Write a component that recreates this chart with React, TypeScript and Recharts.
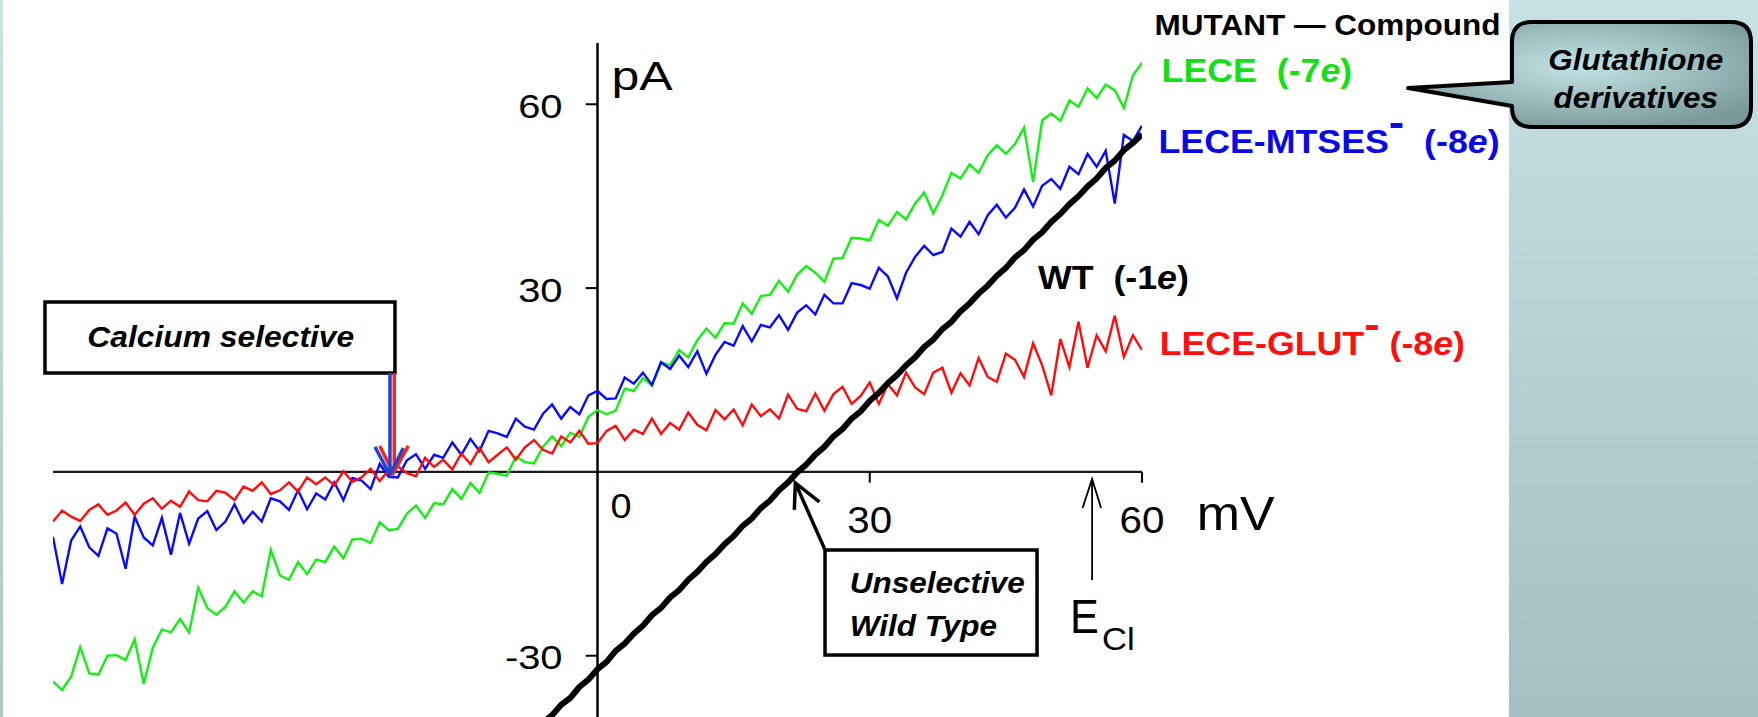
import React from 'react';
import { ComposedChart, Line, XAxis, YAxis, ReferenceLine, ReferenceDot } from 'recharts';

// Membrane potential grid (mV)
const MV = [
  -60, -59, -58, -57, -56, -55, -54, -53, -52, -51,
  -50, -49, -48, -47, -46, -45, -44, -43, -42, -41,
  -40, -39, -38, -37, -36, -35, -34, -33, -32, -31,
  -30, -29, -28, -27, -26, -25, -24, -23, -22, -21,
  -20, -19, -18, -17, -16, -15, -14, -13, -12, -11,
  -10, -9, -8, -7, -6, -5, -4, -3, -2, -1,
  0, 1, 2, 3, 4, 5, 6, 7, 8, 9,
  10, 11, 12, 13, 14, 15, 16, 17, 18, 19,
  20, 21, 22, 23, 24, 25, 26, 27, 28, 29,
  30, 31, 32, 33, 34, 35, 36, 37, 38, 39,
  40, 41, 42, 43, 44, 45, 46, 47, 48, 49,
  50, 51, 52, 53, 54, 55, 56, 57, 58, 59, 60,
];

// LECE (-7e), green, pA
const LECE = [
  -34.2, -35.6, -33.4, -28.6, -32.9, -33.1, -30.0, -29.9, -30.7, -27.3,
  -34.6, -28.7, -25.7, -26.2, -24.0, -26.2, -18.9, -22.2, -23.3, -22.0,
  -19.5, -21.3, -19.5, -20.3, -12.7, -16.9, -17.6, -14.7, -16.7, -14.3,
  -14.7, -12.2, -14.1, -11.0, -10.9, -11.6, -8.2, -9.5, -9.3, -6.8,
  -5.5, -7.5, -5.1, -5.3, -2.8, -4.4, -1.8, -3.4, -0.1, -0.3,
  -0.6, 2.5, 1.6, 1.4, 4.1, 5.8, 4.2, 6.4, 5.7, 9.0,
  10.1, 9.4, 10.0, 13.6, 13.2, 15.3, 14.1, 17.9, 17.4, 19.9,
  18.7, 21.5, 23.4, 21.9, 24.3, 24.2, 27.5, 25.8, 28.7, 28.9,
  31.2, 29.4, 32.2, 33.6, 32.5, 31.0, 34.8, 34.9, 38.2, 38.1,
  37.8, 41.1, 40.2, 42.4, 41.2, 43.8, 45.6, 42.2, 45.1, 48.8,
  47.9, 50.2, 48.8, 51.7, 53.3, 51.9, 53.5, 56.2, 47.3, 57.4,
  58.5, 57.3, 60.6, 59.6, 62.6, 61.0, 63.2, 62.3, 59.4, 64.7, 66.8,
];

// LECE-MTSES- (-8e), blue, pA
const LECE_MTSES = [
  -10.6, -18.3, -11.2, -8.9, -12.3, -13.7, -9.2, -10.1, -15.8, -7.3,
  -10.7, -12.0, -7.5, -13.5, -6.7, -11.7, -7.6, -6.4, -9.5, -8.1,
  -5.3, -8.3, -6.5, -8.1, -4.3, -4.8, -6.2, -3.0, -6.1, -3.5,
  -4.5, -1.7, -4.6, -1.0, -1.4, -2.8, 1.3, -0.8, -0.9, 1.9,
  2.9, 0.5, 2.8, 2.3, 4.8, 2.8, 5.4, 3.4, 6.7, 6.3,
  5.7, 8.7, 7.4, 6.9, 9.5, 11.0, 8.7, 10.6, 9.4, 12.5,
  13.2, 11.9, 12.0, 15.4, 14.4, 16.2, 14.2, 17.9, 16.8, 19.0,
  17.1, 19.7, 16.0, 19.1, 21.2, 20.6, 23.8, 21.3, 24.0, 23.6,
  25.6, 23.2, 26.0, 27.2, 25.7, 28.9, 27.5, 27.5, 30.8, 30.5,
  29.9, 33.3, 31.9, 28.3, 32.5, 35.1, 36.9, 35.4, 35.9, 39.7,
  38.4, 40.8, 38.8, 41.9, 43.6, 41.5, 43.1, 46.1, 43.3, 46.7,
  47.8, 46.2, 49.8, 48.6, 51.9, 49.8, 52.4, 43.8, 55.0, 54.0, 56.5,
];

// LECE-GLUT- (-8e), red, pA
const LECE_GLUT = [
  -8.1, -6.3, -7.3, -8.0, -6.2, -5.3, -7.0, -6.3, -5.0, -7.0,
  -5.2, -4.3, -6.0, -4.7, -5.7, -3.2, -4.6, -4.8, -3.1, -3.4,
  -4.6, -2.4, -3.1, -1.7, -3.6, -3.0, -1.7, -3.2, -0.9, -2.0,
  -0.9, -2.2, 0.1, -1.6, -0.9, 0.5, -1.5, 0.3, 0.9, -0.2,
  -0.7, 2.3, 0.8, 2.0, 0.4, 3.0, 1.3, 3.9, 1.6, 2.8,
  4.0, 2.0, 4.0, 5.2, 3.6, 3.0, 5.8, 4.8, 6.7, 4.6,
  4.7, 6.7, 7.5, 5.2, 6.9, 6.2, 8.7, 6.2, 8.0, 6.9,
  9.7, 7.7, 6.8, 10.1, 8.6, 10.2, 7.6, 11.0, 9.1, 10.2,
  8.7, 12.6, 10.3, 9.9, 12.8, 10.0, 12.7, 13.9, 11.1, 12.4,
  14.6, 11.1, 14.3, 12.5, 16.2, 13.8, 12.7, 16.2, 17.0, 12.9,
  16.1, 14.1, 18.6, 15.5, 14.7, 19.3, 18.3, 15.5, 21.0, 17.4,
  12.5, 21.7, 17.1, 24.5, 17.0, 22.3, 19.7, 25.5, 18.8, 22.3, 19.9,
];

// WT (-1e), black, pA — recorded from -8 mV upward
const WT_START_MV = -8;
const WT = [
  -43.9, -42.6, -40.9, -39.7, -38.0, -36.9, -35.1, -33.9,
  -32.2, -31.0, -29.2, -28.0, -26.4, -25.1, -23.4, -22.2, -20.5, -19.3,
  -17.6, -16.3, -14.7, -13.4, -11.8, -10.5, -8.8, -7.6, -5.9, -4.7,
  -3.0, -1.7, -0.1, 1.2, 2.8, 4.1, 5.8, 7.0, 8.7, 9.9,
  11.6, 12.9, 14.5, 15.8, 17.4, 18.7, 20.4, 21.6, 23.3, 24.5,
  26.2, 27.5, 29.1, 30.4, 32.0, 33.3, 35.0, 36.2, 37.9, 39.1,
  40.8, 42.1, 43.7, 45.0, 46.6, 47.9, 49.6, 50.8, 52.5, 53.7, 55.1,
];

const Y_TICKS = [60, 30, -30];
const X_TICKS = [30, 60];
const E_CL = 54.5;     // chloride equilibrium potential (mV)
const CA_REV = -23;    // reversal of calcium-selective mutants (mV)
const WT_REV = 21.8;   // reversal of wild type (mV)

const WT_INDEX0 = MV.indexOf(WT_START_MV);
const rows = MV.map((mv, i) => ({
  mv,
  lece: LECE[i],
  mtses: LECE_MTSES[i],
  glut: LECE_GLUT[i],
  wt: i >= WT_INDEX0 ? WT[i - WT_INDEX0] : null,
}));

const FONT = '"Liberation Sans", Arial, Helvetica, sans-serif';

function Txt(props: any) {
  const { x, y, size, sx = 1, anchor = 'start', bold = false, italic = false, fill = '#000', children } = props;
  return (
    <text
      transform={`translate(${x},${y}) scale(${sx},1)`}
      fontSize={size}
      textAnchor={anchor}
      fontWeight={bold ? 'bold' : 'normal'}
      fontStyle={italic ? 'italic' : 'normal'}
      fill={fill}
      fontFamily={FONT}
      xmlSpace="preserve"
      style={{ whiteSpace: 'pre' }}
    >
      {children}
    </text>
  );
}

const at = (key: string, x: number, y: number, draw: (cx: number, cy: number) => React.ReactNode) => (
  <ReferenceDot
    key={key}
    x={x}
    y={y}
    r={0}
    ifOverflow="visible"
    fill="none"
    stroke="none"
    shape={(p: any) => <g>{draw(p.cx, p.cy)}</g>}
  />
);

export default function App() {
  return (
    <div style={{ position: 'absolute', left: 0, top: 0, width: 1758, height: 717, overflow: 'hidden', background: '#fff' }}>
      <div style={{ position: 'absolute', left: 0, top: 0, width: 3, height: 717, background: 'linear-gradient(#c8e2e6,#aec6c9)' }} />
      <div style={{ position: 'absolute', left: 1509, top: 0, width: 249, height: 717, background: 'linear-gradient(#c7e1e5,#a6bec1)' }} />
      <div style={{ position: 'absolute', left: 0, top: 0 }}>
        <ComposedChart width={1758} height={717} data={rows} margin={{ top: 43, right: 616, bottom: 0, left: 53 }}>
          <XAxis dataKey="mv" type="number" domain={[-60, 60]} hide allowDataOverflow />
          <YAxis type="number" domain={[-40, 70]} hide allowDataOverflow />

          <ReferenceLine y={0} stroke="#1a1a1a" strokeWidth={2.2} />
          <ReferenceLine x={0} stroke="#000" strokeWidth={2.5} />
          {Y_TICKS.map((t) => (
            <ReferenceLine key={'yt' + t} segment={[{ x: -1.3, y: t }, { x: 0, y: t }]} stroke="#000" strokeWidth={2} />
          ))}
          {X_TICKS.map((t) => (
            <ReferenceLine key={'xt' + t} segment={[{ x: t, y: 0 }, { x: t, y: -1.75 }]} stroke="#000" strokeWidth={2} />
          ))}

          <Line type="linear" dataKey="lece" stroke="#14f014" strokeWidth={2.4} dot={false} isAnimationActive={false} />
          <Line type="linear" dataKey="mtses" stroke="#0a0aff" strokeWidth={2.4} dot={false} isAnimationActive={false} />
          <Line type="linear" dataKey="glut" stroke="#ff0c0c" strokeWidth={2.4} dot={false} isAnimationActive={false} />
          <Line type="linear" dataKey="wt" stroke="#000" strokeWidth={6} dot={false} isAnimationActive={false} connectNulls={false} />

          {Y_TICKS.map((t) =>
            at('yl' + t, 0, t, (cx, cy) => (
              <Txt x={cx - 35} y={cy + 13.5} size={33.5} sx={1.19} anchor="end">{String(t)}</Txt>
            ))
          )}
          {X_TICKS.map((t) =>
            at('xl' + t, t, 0, (cx, cy) => (
              <Txt x={cx} y={cy + 61.5} size={37} sx={1.09} anchor="middle">{String(t)}</Txt>
            ))
          )}
          {at('zero', 0, 0, (cx, cy) => (
            <Txt x={cx + 13} y={cy + 46.5} size={35} sx={1.08}>0</Txt>
          ))}
          {at('pA', 0, 70, (cx, cy) => (
            <Txt x={cx + 14} y={cy + 47} size={40} sx={1.25}>pA</Txt>
          ))}
          {at('mV', 60, 0, (cx, cy) => (
            <Txt x={cx + 54.7} y={cy + 58} size={49} sx={1.06}>mV</Txt>
          ))}

          {at('ecl', E_CL, 0, (cx, cy) => (
            <g>
              <line x1={cx} y1={cy + 108} x2={cx} y2={cy + 7} stroke="#000" strokeWidth={1.8} />
              <polyline points={`${cx - 9.5},${cy + 36} ${cx},${cy + 7} ${cx + 9},${cy + 36}`} fill="none" stroke="#000" strokeWidth={1.8} />
              <Txt x={cx - 22} y={cy + 161} size={49} sx={0.88}>E</Txt>
              <Txt x={cx + 10} y={cy + 178} size={32} sx={1.08}>Cl</Txt>
            </g>
          ))}

          {at('ca', CA_REV, 0, (cx, cy) => (
            <g>
              <rect x={cx - 343.8} y={cy - 169.9} width={350} height={71} fill="#fff" stroke="#000" strokeWidth={3.5} />
              <Txt x={cx - 168} y={cy - 125.2} size={30} sx={1.06} anchor="middle" bold italic>Calcium selective</Txt>
              <line x1={cx + 5.5} y1={cy - 99} x2={cx + 5.5} y2={cy - 1} stroke="#ff2020" strokeWidth={3.5} />
              <polyline points={`${cx - 9},${cy - 26} ${cx + 4.5},${cy + 1} ${cx + 19.5},${cy - 26}`} fill="none" stroke="#ff2020" strokeWidth={3.5} />
              <line x1={cx + 1.2} y1={cy - 99} x2={cx + 1.2} y2={cy - 1} stroke="#2244cc" strokeWidth={3.5} />
              <polyline points={`${cx - 13.8},${cy - 25} ${cx + 1.2},${cy + 3} ${cx + 14.5},${cy - 24}`} fill="none" stroke="#2244cc" strokeWidth={3.5} />
            </g>
          ))}

          {at('wtrev', WT_REV, 0, (cx, cy) => (
            <g>
              <line x1={cx + 29.7} y1={cy + 78} x2={cx} y2={cy + 11} stroke="#000" strokeWidth={3.5} />
              <polyline points={`${cx - 1},${cy + 38} ${cx},${cy + 11} ${cx + 24},${cy + 30}`} fill="none" stroke="#000" strokeWidth={3.5} />
              <rect x={cx + 29.7} y={cy + 78.1} width={212} height={105} fill="#fff" stroke="#000" strokeWidth={3.5} />
              <Txt x={cx + 54.5} y={cy + 121.4} size={30} sx={1.05} bold italic>Unselective</Txt>
              <Txt x={cx + 54.5} y={cy + 164} size={30} sx={1.05} bold italic>Wild Type</Txt>
            </g>
          ))}

          {at('labels', 60, 70, (cx, cy) => (
            <g>
              <Txt x={cx + 12.6} y={cy - 8} size={30.3} sx={1.04} bold>MUTANT — Compound</Txt>
              <Txt x={cx + 19.6} y={cy + 39} size={32.5} sx={1.1} bold fill="#14e014">
                {'LECE  (-7'}<tspan fontStyle="italic">e</tspan>)
              </Txt>
              <Txt x={cx + 16.5} y={cy + 110} size={32.5} sx={1.1} bold fill="#0a0ae6">
                LECE-MTSES<tspan fontSize={42} dy={-16}>-</tspan><tspan dy={16}>{'  (-8'}</tspan><tspan fontStyle="italic">e</tspan>)
              </Txt>
              <Txt x={cx - 104} y={cy + 246} size={32.5} sx={1.1} bold>
                {'WT  (-1'}<tspan fontStyle="italic">e</tspan>)
              </Txt>
              <Txt x={cx + 17.7} y={cy + 312} size={32.5} sx={1.1} bold fill="#ff1010">
                LECE-GLUT<tspan fontSize={42} dy={-16}>-</tspan><tspan dy={16}>{' (-8'}</tspan><tspan fontStyle="italic">e</tspan>)
              </Txt>
            </g>
          ))}

          {at('callout', 60, 70, (cx, cy) => {
            const L = cx + 370, R = cx + 609, T = cy - 21, B = cy + 84, r = 20;
            const tipX = cx + 266, tipY = cy + 45;
            const d = `M ${L + r} ${T} H ${R - r} Q ${R} ${T} ${R} ${T + r} V ${B - r} Q ${R} ${B} ${R - r} ${B} H ${L + r} Q ${L} ${B} ${L} ${B - r} V ${cy + 63} L ${tipX} ${tipY} L ${L} ${cy + 39} V ${T + r} Q ${L} ${T} ${L + r} ${T} Z`;
            return (
              <g>
                <defs>
                  <radialGradient id="calloutFill" cx="50%" cy="42%" r="62%">
                    <stop offset="0%" stopColor="#c2e2e5" />
                    <stop offset="55%" stopColor="#9dbcbe" />
                    <stop offset="100%" stopColor="#7b999a" />
                  </radialGradient>
                </defs>
                <path d={d} fill="url(#calloutFill)" stroke="#000" strokeWidth={4} strokeLinejoin="round" />
                <Txt x={cx + 493.7} y={cy + 27} size={30} sx={1.05} anchor="middle" bold italic>Glutathione</Txt>
                <Txt x={cx + 493.7} y={cy + 65} size={30} sx={1.05} anchor="middle" bold italic>derivatives</Txt>
              </g>
            );
          })}
        </ComposedChart>
      </div>
    </div>
  );
}
